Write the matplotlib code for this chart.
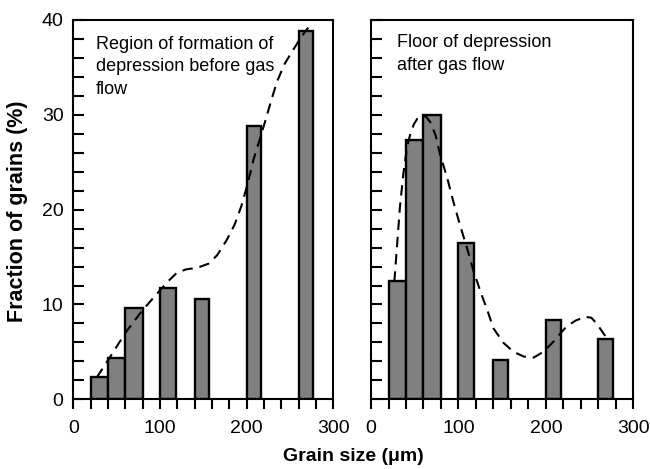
import matplotlib
matplotlib.use("Agg")
import matplotlib.pyplot as plt
from matplotlib.ticker import MultipleLocator

plt.rcParams['font.family'] = ['Liberation Sans', 'DejaVu Sans']

# bins (left edge, width) in um
bin_left = [20, 40, 60, 100, 140, 200, 260]
bin_width = [20, 20, 20, 18, 17, 17, 17]

# fraction of grains (%)
before = [2.3, 4.4, 9.6, 11.7, 10.6, 28.8, 38.8]
after = [12.5, 27.3, 30.0, 16.5, 4.1, 8.4, 6.4]

# dashed trend lines
before_x = [27, 42, 60, 79, 100, 110, 119, 130, 138, 147, 156, 166, 177, 186, 194, 201, 208, 215, 221, 228, 235, 244, 254, 263, 271]
before_y = [2.3, 4.4, 7.0, 9.3, 11.5, 12.5, 13.3, 13.7, 13.8, 14.0, 14.3, 15.2, 16.8, 18.4, 20.4, 22.7, 25.3, 27.4, 29.2, 31.4, 33.5, 35.4, 36.9, 38.2, 39.2]
after_x = [26.7, 30, 33, 37, 41, 45, 49, 53, 58, 63, 68, 74, 79, 87, 94, 102, 110, 117, 125, 133, 140, 151, 163, 175, 186, 197, 209, 217, 224, 234, 245, 252, 258, 264, 270]
after_y = [12.4, 16.5, 20.2, 23.8, 26.5, 28.0, 29.0, 29.6, 29.9, 29.8, 29.2, 27.8, 25.8, 23.4, 20.9, 18.3, 15.9, 13.6, 11.4, 9.4, 7.5, 6.0, 5.0, 4.5, 4.4, 5.0, 6.1, 7.0, 7.7, 8.3, 8.7, 8.6, 8.0, 7.2, 6.4]

panels = [
    (before, before_x, before_y, "Region of formation of\ndepression before gas\nflow", 0.088, 0.958),
    (after, after_x, after_y, "Floor of depression\nafter gas flow", 0.1, 0.962),
]

fig = plt.figure(figsize=(6.5, 4.69), dpi=100)
axes = [fig.add_axes([0.1128, 0.1486, 0.4, 0.8088]),
        fig.add_axes([0.5708, 0.1486, 0.4035, 0.8088])]

for i, (ax, (vals, cx, cy, title, tx, ty)) in enumerate(zip(axes, panels)):
    ax.bar(bin_left, vals, width=bin_width, align='edge', color='#808080',
           edgecolor='black', linewidth=1.7, zorder=2)
    ax.plot(cx, cy, color='black', linestyle=(0, (5, 3.3)), linewidth=1.5, zorder=3)
    ax.set_xlim(0, 300)
    ax.set_ylim(0, 40)
    ax.xaxis.set_major_locator(MultipleLocator(100))
    ax.xaxis.set_minor_locator(MultipleLocator(20))
    ax.yaxis.set_major_locator(MultipleLocator(10))
    ax.yaxis.set_minor_locator(MultipleLocator(2))
    ax.tick_params(axis='x', which='both', direction='out', length=7, width=1.5,
                   labelsize=14, pad=8)
    ax.tick_params(axis='y', which='both', direction='in', length=8, width=1.5,
                   labelsize=14, pad=7)
    for s in ax.spines.values():
        s.set_linewidth(1.5)
    ax.text(tx, ty, title, transform=ax.transAxes, fontsize=13,
            va='top', ha='left', linespacing=1.42)
    if i == 1:
        ax.tick_params(axis='y', labelleft=False)

fig.text(0.027, 0.55, "Fraction of grains (%)", rotation=90, fontsize=15.5,
         fontweight='bold', ha='center', va='center')
fig.text(0.543, 0.027, "Grain size (\u03bcm)", fontsize=14, fontweight='bold',
         ha='center', va='center')

fig.savefig("out.png", dpi=100)
